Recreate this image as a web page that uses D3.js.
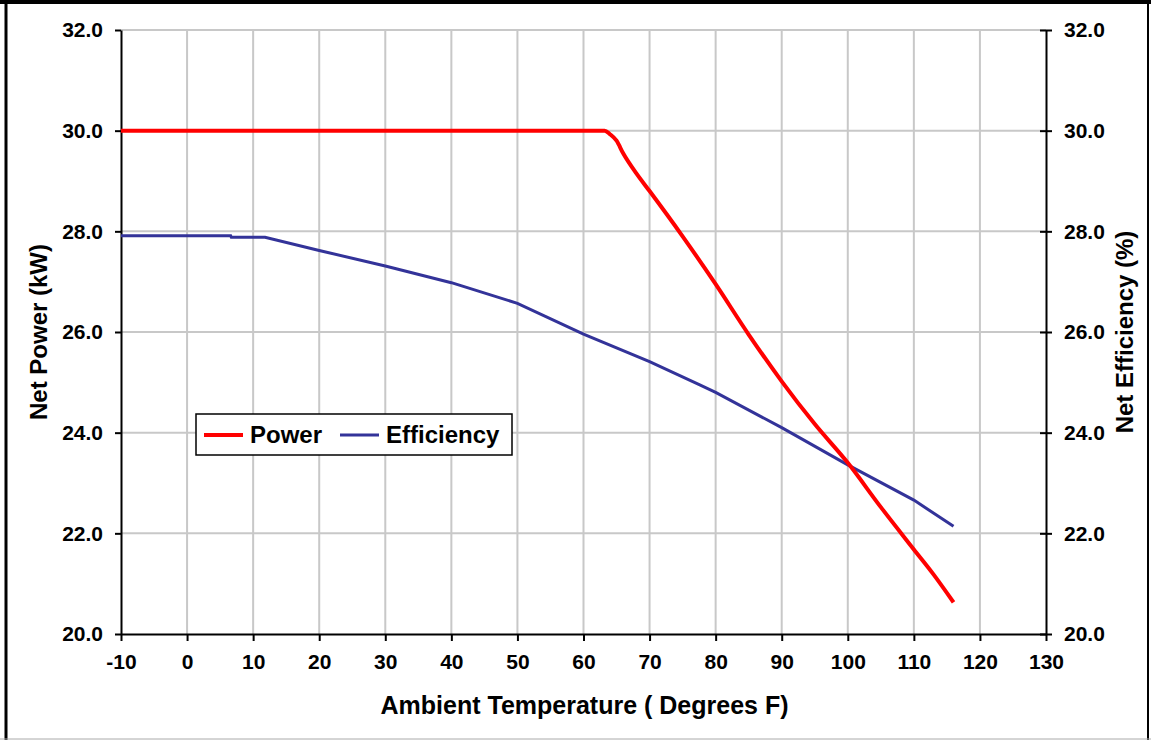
<!DOCTYPE html>
<html>
<head>
<meta charset="utf-8">
<script src="https://cdn.jsdelivr.net/npm/d3@7"></script>
<style>
  body { margin: 0; background: #fff; }
  text { font-family: "Liberation Sans", Arial, sans-serif; font-weight: bold; fill: #000; }
</style>
</head>
<body>
<div id="chart"></div>
<script>
// chart size
const width = 1151, height = 740;

// data
const powerTemp = [-10, 63.2, 64, 65, 66, 68, 70, 75, 80, 85, 90, 95, 100, 105, 110, 113, 116];
const powerKW   = [30.0, 30.0, 29.93, 29.8, 29.55, 29.15, 28.8, 27.9, 26.95, 25.95, 25.02, 24.17, 23.4, 22.52, 21.68, 21.18, 20.63];

const effTemp = [-10, 6.6, 6.7, 11.8, 20, 30, 40, 50, 60, 70, 77.6, 80, 90, 100, 110, 116];
const effPct  = [27.91, 27.91, 27.88, 27.88, 27.62, 27.31, 26.98, 26.57, 25.96, 25.41, 24.95, 24.8, 24.1, 23.36, 22.66, 22.14];

const xTicks = d3.range(-10, 131, 10);
const yTicks = d3.range(20, 32.1, 2);

const margin = { left: 121, right: 1046, top: 30, bottom: 634 };

const svg = d3.select("#chart")
  .append("svg")
  .attr("width", width)
  .attr("height", height);

// outer frame
svg.append("line").attr("x1", 6).attr("x2", 6).attr("y1", 0).attr("y2", 740).attr("stroke", "#000").attr("stroke-width", 3);
svg.append("line").attr("x1", 0).attr("x2", 1151).attr("y1", 2).attr("y2", 2).attr("stroke", "#000").attr("stroke-width", 4);
svg.append("line").attr("x1", 1148).attr("x2", 1148).attr("y1", 0).attr("y2", 740).attr("stroke", "#000").attr("stroke-width", 2);
svg.append("line").attr("x1", 0).attr("x2", 1151).attr("y1", 739).attr("y2", 739).attr("stroke", "#aaa").attr("stroke-width", 1);

const x = d3.scaleLinear().domain([-10, 130]).range([margin.left, margin.right]);
const yL = d3.scaleLinear().domain([20, 32]).range([margin.bottom, margin.top]);
const yR = d3.scaleLinear().domain([20, 32]).range([margin.bottom, margin.top]);

// grid
const grid = svg.append("g").attr("stroke", "#c8c8c8").attr("stroke-width", 2);
grid.selectAll("line.v")
  .data(xTicks.slice(1, -1))
  .join("line")
  .attr("x1", d => x(d)).attr("x2", d => x(d))
  .attr("y1", margin.top).attr("y2", margin.bottom);
grid.selectAll("line.h")
  .data(yTicks.slice(1))
  .join("line")
  .attr("x1", margin.left).attr("x2", margin.right)
  .attr("y1", d => yL(d)).attr("y2", d => yL(d));

// axes
const fmt = d3.format(".1f");
const xAxis = svg.append("g")
  .attr("transform", `translate(0,${margin.bottom})`)
  .call(d3.axisBottom(x).tickValues(xTicks).tickFormat(d => String(d)).tickSize(7).tickSizeOuter(0).tickPadding(10));
const leftAxis = svg.append("g")
  .attr("transform", `translate(${margin.left},0)`)
  .call(d3.axisLeft(yL).tickValues(yTicks).tickFormat(fmt).tickSize(7).tickSizeOuter(0).tickPadding(11));
const rightAxis = svg.append("g")
  .attr("transform", `translate(${margin.right},0)`)
  .call(d3.axisRight(yR).tickValues(yTicks).tickFormat(fmt).tickSize(7).tickSizeOuter(0).tickPadding(11));

// cross-style ticks on the y axes
leftAxis.selectAll(".tick line").attr("x2", -6).attr("x1", 0);
rightAxis.selectAll(".tick line").attr("x1", -6).attr("x2", 6);

[xAxis, leftAxis, rightAxis].forEach(a => {
  a.select(".domain").attr("stroke", "#000").attr("stroke-width", 2);
  a.selectAll(".tick line").attr("stroke", "#000").attr("stroke-width", 2);
  a.selectAll(".tick text").style("font-size", "21px").attr("fill", "#000");
});
xAxis.selectAll(".tick text").attr("dy", "0.85em");

// lines
const powerData = powerTemp.map((t, i) => ({ t, v: powerKW[i] }));
const effData = effTemp.map((t, i) => ({ t, v: effPct[i] }));

svg.append("path")
  .datum(effData)
  .attr("fill", "none")
  .attr("stroke", "#333399")
  .attr("stroke-width", 3)
  .attr("d", d3.line().x(d => x(d.t)).y(d => yR(d.v)));

svg.append("path")
  .datum(powerData)
  .attr("fill", "none")
  .attr("stroke", "#ff0000")
  .attr("stroke-width", 4)
  .attr("d", d3.line().curve(d3.curveMonotoneX).x(d => x(d.t)).y(d => yL(d.v)));

// axis titles
svg.append("text")
  .attr("x", (margin.left + margin.right) / 2 + 1)
  .attr("y", 714)
  .attr("text-anchor", "middle")
  .style("font-size", "25px")
  .text("Ambient Temperature ( Degrees F)");

svg.append("text")
  .attr("transform", `translate(47,${(margin.top + margin.bottom) / 2}) rotate(-90)`)
  .attr("text-anchor", "middle")
  .style("font-size", "24px")
  .text("Net Power (kW)");

svg.append("text")
  .attr("transform", `translate(1133,${(margin.top + margin.bottom) / 2}) rotate(-90)`)
  .attr("text-anchor", "middle")
  .style("font-size", "24px")
  .text("Net Efficiency (%)");

// legend
const legend = svg.append("g").attr("transform", "translate(196,414)");
legend.append("rect")
  .attr("width", 316).attr("height", 41)
  .attr("fill", "#fff").attr("stroke", "#000").attr("stroke-width", 1.5);
const items = [
  { name: "Power", color: "#ff0000", w: 4, x: 8 },
  { name: "Efficiency", color: "#333399", w: 3, x: 144 }
];
items.forEach(it => {
  legend.append("line")
    .attr("x1", it.x).attr("x2", it.x + 39)
    .attr("y1", 21).attr("y2", 21)
    .attr("stroke", it.color).attr("stroke-width", it.w);
  legend.append("text")
    .attr("x", it.x + 46).attr("y", 29)
    .style("font-size", "24px")
    .text(it.name);
});
</script>
</body>
</html>
